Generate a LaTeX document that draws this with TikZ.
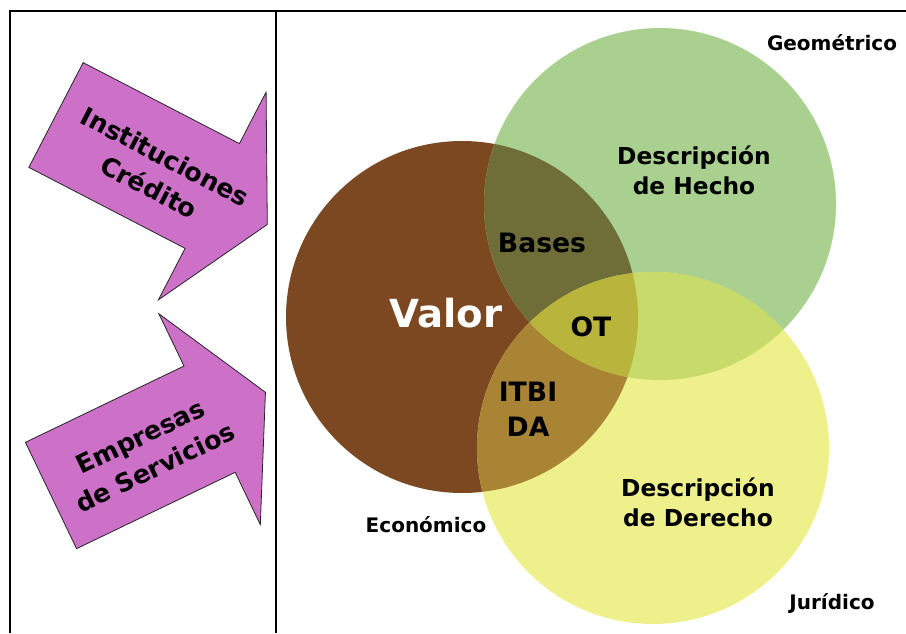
\documentclass[tikz,border=0pt]{standalone}
\usepackage{fontspec}
\setmainfont{DejaVu Sans}
\usetikzlibrary{positioning}

\definecolor{cafe}{HTML}{7B4821}
\definecolor{verde}{HTML}{A9D08E}
\definecolor{amarillo}{HTML}{EEF08C}
\definecolor{cafeverde}{HTML}{706E38}
\definecolor{verdeamarillo}{HTML}{C8DA6A}
\definecolor{cafeamarillo}{HTML}{A88434}
\definecolor{centro}{HTML}{B9B43C}
\definecolor{rosa}{HTML}{CD70C8}

\newcommand{\circCafe}{(462,316) circle[radius=176]}
\newcommand{\circVerde}{(660,429) circle[radius=176]}
\newcommand{\circAmarillo}{(653,185) circle[radius=176]}

\begin{document}
\begin{tikzpicture}[
      x = 0.75pt, y = 0.75pt,
      marco/.style = { line width = 1.5pt },
      flecha/.style = { fill = rosa, draw = black!85, line width = 0.6pt },
      flechatexto/.style = {
        font = {\fontsize{19}{26}\selectfont\bfseries},
        align = center, inner sep = 0
      },
      etiqueta/.style = { font = {\fontsize{15}{18}\selectfont\bfseries} },
      descripcion/.style = {
        font = {\fontsize{17.5}{22.5}\selectfont\bfseries}, align = center
      },
      cruce/.style = {
        font = {\fontsize{20}{26}\selectfont\bfseries}, align = center
      },
    ]
    \useasboundingbox (0,0) rectangle (906,633);

    %% marco
    \draw[marco] (10,0) -- (10,622) -- (906,622);
    \draw[marco] (276,0) -- (276,622);

    %% flechas
    \foreach \x/\y/\a/\u/\v/\t [count=\i] in {56/518/-27.4/116/-4/{Instituciones\\Crédito}, 51/137.5/25.7/106/-3/{Empresas\\de Servicios}} {
      \begin{scope}[shift={(\x,\y)}, rotate=\a]
        \draw[flecha] (0,59) -- (176,59) -- (176,117) -- (238,0) -- (176,-117) -- (176,-59) -- (0,-59) -- cycle;
        \node[flechatexto, rotate=\a] (F\i) at (\u,\v) {\t};
      \end{scope}
    }

    %% circulos
    \fill[cafe] \circCafe;
    \fill[verde] \circVerde;
    \fill[amarillo] \circAmarillo;
    \begin{scope}
      \clip \circCafe;
      \fill[cafeverde] \circVerde;
      \fill[cafeamarillo] \circAmarillo;
    \end{scope}
    \begin{scope}
      \clip \circVerde;
      \fill[verdeamarillo] \circAmarillo;
    \end{scope}
    \begin{scope}
      \clip \circCafe;
      \clip \circVerde;
      \fill[centro] \circAmarillo;
    \end{scope}

    %% textos
    \node[etiqueta] (geo) at (832,590) {Geométrico};
    \node[descripcion] (hecho) at (694,463) {Descripción\\de Hecho};
    \node[cruce] (bases) at (542,390) {Bases};
    \node[font = {\fontsize{29}{34}\selectfont\bfseries}, text = white] (valor) at (446,320) {Valor};
    \node[cruce] (ot) at (591,306) {OT};
    \node[cruce] (itbi) at (528,224) {ITBI\\DA};
    \node[descripcion] (derecho) at (698,131) {Descripción\\de Derecho};
    \node[etiqueta] (eco) at (426,108) {Económico};
    \node[etiqueta] (jur) at (832,30) {Jurídico};
  \end{tikzpicture}
\end{document}
